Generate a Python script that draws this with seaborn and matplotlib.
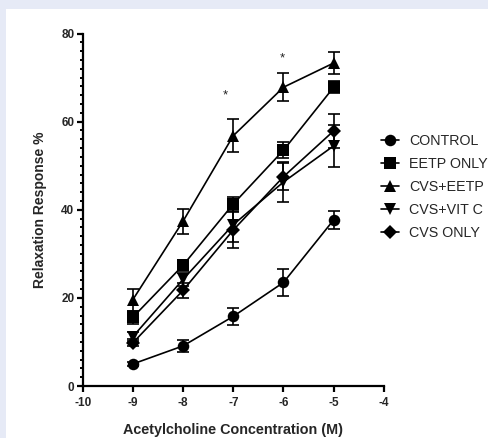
import matplotlib
matplotlib.use("Agg")
import matplotlib.pyplot as plt
from matplotlib.lines import Line2D
from matplotlib.patches import Rectangle
from matplotlib.ticker import MultipleLocator
import numpy as np
import pandas as pd
import seaborn as sns

# Log molar acetylcholine concentrations
log_conc = [-9, -8, -7, -6, -5]

groups = ["CONTROL", "EETP ONLY", "CVS+EETP", "CVS+VIT C", "CVS ONLY"]

# Mean relaxation response (%) per group
control_mean = [5.0, 9.1, 15.8, 23.5, 37.7]
eetp_mean = [15.6, 27.4, 41.3, 53.5, 67.8]
cvs_eetp_mean = [19.6, 37.4, 56.8, 67.8, 73.3]
cvs_vitc_mean = [11.2, 24.2, 36.6, 46.3, 54.5]
cvs_only_mean = [9.8, 21.7, 35.4, 47.5, 57.9]

# Standard error of the mean
control_sem = [0.5, 1.4, 1.9, 3.0, 2.1]
eetp_sem = [1.5, 1.2, 1.5, 1.8, 1.4]
cvs_eetp_sem = [2.5, 2.8, 3.8, 3.2, 2.5]
cvs_vitc_sem = [1.0, 1.5, 4.0, 4.5, 4.7]
cvs_only_sem = [0.8, 1.7, 4.1, 3.0, 3.8]

means = [control_mean, eetp_mean, cvs_eetp_mean, cvs_vitc_mean, cvs_only_mean]
sems = [control_sem, eetp_sem, cvs_eetp_sem, cvs_vitc_sem, cvs_only_sem]

# Significance marks
star_x = [-7.15, -6.02]
star_y = [66.0, 74.3]

markers = {"CONTROL": "o", "EETP ONLY": "s", "CVS+EETP": "^",
           "CVS+VIT C": "v", "CVS ONLY": "D"}
msizes = {"CONTROL": 8.3, "EETP ONLY": 9.0, "CVS+EETP": 9.0,
          "CVS+VIT C": 9.0, "CVS ONLY": 7.0}

rows = []
for g, m, s in zip(groups, means, sems):
    for x, y, e in zip(log_conc, m, s):
        rows.append({"conc": x, "resp": y, "sem": e, "group": g})
df = pd.DataFrame(rows)

sns.set_theme(style="ticks")
plt.rcParams["font.family"] = ["Liberation Sans", "DejaVu Sans"]
plt.rcParams["axes.unicode_minus"] = False

fig = plt.figure(figsize=(4.89, 4.38), dpi=100)
fig.patch.set_facecolor("#e6eaf6")
# white panel behind the plot
fig.patches.append(Rectangle((6 / 489, 0), 1, (438 - 9) / 438,
                             transform=fig.transFigure, facecolor="white",
                             edgecolor="none", zorder=-10))
ax = fig.add_axes([0.169, 0.1187, 0.616, 0.8048])
ax.set_facecolor("none")

sns.lineplot(data=df, x="conc", y="resp", hue="group", style="group",
             palette=["black"] * len(groups), markers=markers, dashes=False,
             errorbar=None, linewidth=1.2, markeredgewidth=0, legend=False,
             ax=ax, zorder=3)

# per-series marker sizes
for line, g in zip(ax.lines, groups):
    line.set_markersize(msizes[g])

for g in groups:
    sub = df[df["group"] == g]
    ax.errorbar(sub["conc"], sub["resp"], yerr=sub["sem"], fmt="none",
                ecolor="black", elinewidth=1.2, capsize=4.3, capthick=1.2,
                zorder=2)

for x, y in zip(star_x, star_y):
    ax.text(x, y, "*", ha="center", va="center", fontsize=9.5, color="#222222")

ax.set_xlim(-10, -4)
ax.set_ylim(0, 80)
ax.set_xticks(np.arange(-10, -3, 1))
ax.set_yticks(np.arange(0, 81, 20))
ax.yaxis.set_minor_locator(MultipleLocator(2))
ax.tick_params(axis="both", which="major", length=4, width=1.6,
               labelsize=8.5, pad=2, color="black")
ax.tick_params(axis="x", which="major", pad=4)
ax.tick_params(axis="y", which="minor", length=2.5, width=1.4, color="black")
for lab in ax.get_xticklabels() + ax.get_yticklabels():
    lab.set_fontweight("bold")

for side in ["top", "right"]:
    ax.spines[side].set_visible(False)
for side in ["left", "bottom"]:
    ax.spines[side].set_linewidth(1.6)
    ax.spines[side].set_color("black")

ax.set_xlabel("Acetylcholine Concentration (M)", fontsize=10.4,
              fontweight="bold", labelpad=10)
ax.set_ylabel("Relaxation Response %", fontsize=10, fontweight="bold",
              labelpad=10)

handles = [Line2D([], [], color="black", linewidth=1.2, marker=markers[g],
                  markersize=msizes[g], markeredgewidth=0) for g in groups]
leg = fig.legend(handles, groups, loc="upper left",
                 bbox_to_anchor=(375 / 489, 1 - 128 / 438), frameon=False,
                 fontsize=10.3, handlelength=1.3, handletextpad=0.7,
                 labelspacing=0.64, borderaxespad=0)

fig.savefig("out.png", dpi=100, facecolor=fig.get_facecolor())
